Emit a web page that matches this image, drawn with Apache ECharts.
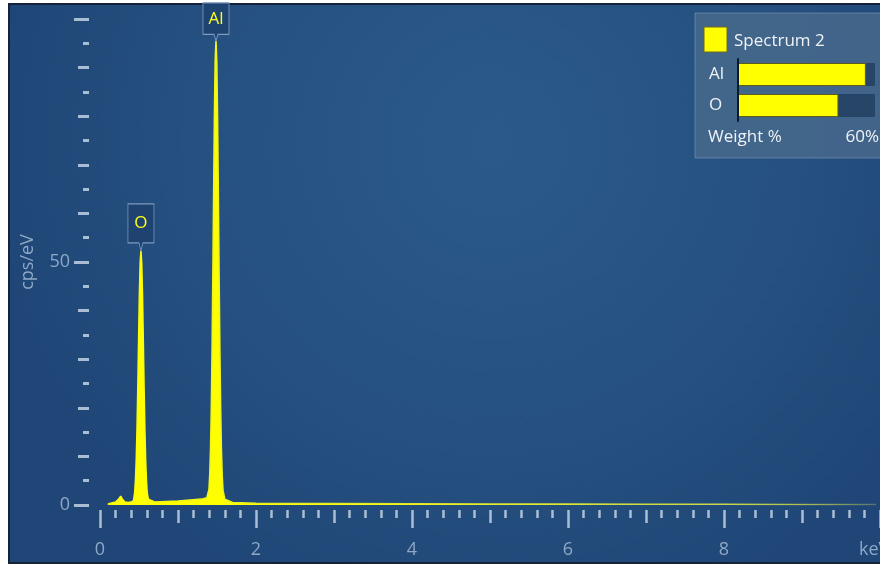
<!DOCTYPE html>
<html>
<head>
<meta charset="utf-8">
<script src="https://cdn.jsdelivr.net/npm/echarts@6/dist/echarts.min.js"></script>
<style>
  html, body { margin: 0; padding: 0; background: #ffffff; }
  #chart { width: 880px; height: 565px; }
</style>
</head>
<body>
<div id="chart"></div>
<script>
// EDS spectrum: photon energy (keV) and count rate (cps/eV)
const energy = [
  0.10, 0.15, 0.20, 0.24, 0.265, 0.29, 0.32, 0.36, 0.40, 0.43,
  0.445, 0.455, 0.465, 0.475, 0.485, 0.495, 0.505, 0.515, 0.525, 0.535,
  0.545, 0.555, 0.565, 0.575, 0.585, 0.595, 0.605, 0.62, 0.70, 0.85,
  1.00, 1.15, 1.30, 1.37, 1.385, 1.397, 1.407, 1.417, 1.427, 1.437,
  1.447, 1.457, 1.467, 1.477, 1.487, 1.497, 1.507, 1.517, 1.527, 1.537,
  1.547, 1.557, 1.567, 1.577, 1.60, 1.70, 2.0, 2.5, 3.0, 4.0,
  5.0, 6.0, 7.0, 8.0, 9.0, 9.95
];
const counts = [
  0.2, 0.4, 0.6, 1.2, 1.8, 1.1, 0.6, 0.5, 0.6, 0.9,
  2.6, 5.2, 9.4, 15.8, 24.3, 33.9, 43.2, 49.8, 52.3, 49.6,
  42.9, 33.6, 24.0, 15.5, 9.2, 5.1, 2.5, 1.2, 0.6, 0.7,
  0.8, 1.0, 1.2, 1.5, 1.8, 3.2, 6.2, 11.3, 19.6, 31.8,
  47.2, 64.0, 80.1, 91.4, 95.5, 91.2, 79.8, 63.7, 46.9, 31.5,
  19.3, 11.0, 5.9, 3.0, 1.2, 0.5, 0.35, 0.3, 0.3, 0.25,
  0.2, 0.2, 0.15, 0.15, 0.1, 0.1
];

// Identified peaks
const peakNames = ['O', 'Al'];
const peakEnergy = [0.525, 1.487];

// Quantification panel
const spectrumName = 'Spectrum 2';
const elements = ['Al', 'O'];
const weightPercent = [56, 44];
const weightScaleMax = 60;

// Axis ranges and labelling
const energyMax = 10;
const countsMax = 100;
const xLabelTicks = [0, 2, 4, 6, 8];
const yLabelTicks = [0, 50];

const chart = echarts.init(document.getElementById('chart'), null, { renderer: 'canvas' });

const tickColor = '#a9bdd5';
const labelColor = '#8ea8c6';
const fontFamily = '"Open Sans", "Noto Sans", sans-serif';

const spectrum = energy.map((e, i) => [e, counts[i]]);

const calloutPath = 'path://M0,0 L26,0 L26,39 L15,39 L13,47 L11,39 L0,39 Z';

const peakMarks = peakNames.map((name, i) => {
  const h = counts[energy.indexOf(peakEnergy[i])];
  const tall = h > 80;
  return {
    name: name,
    coord: [peakEnergy[i], h],
    symbol: calloutPath,
    symbolSize: tall ? [26, 38] : [26, 47],
    symbolKeepAspect: false,
    symbolOffset: [0, '-50%'],
    label: { offset: tall ? [0, -3] : [0, -4] }
  };
});

const hiddenValueAxis = (gridIndex, max) => ({
  type: 'value', gridIndex: gridIndex, min: 0, max: max, show: false,
  splitLine: { show: false }
});

const option = {
  backgroundColor: '#ffffff',
  animation: false,
  graphic: [
    {
      type: 'rect',
      z: -10,
      shape: { x: 9, y: 4, width: 880, height: 559 },
      style: {
        fill: new echarts.graphic.RadialGradient(0.55, 0.25, 0.9, [
          { offset: 0, color: '#2b5a89' },
          { offset: 0.6, color: '#25507f' },
          { offset: 1, color: '#1f4676' }
        ]),
        stroke: '#15233a',
        lineWidth: 2
      }
    },
    {
      type: 'rect',
      z: 5,
      shape: { x: 695, y: 13, width: 190, height: 145 },
      style: { fill: 'rgba(72,104,140,0.85)', stroke: 'rgba(140,165,195,0.5)', lineWidth: 1 }
    },
    {
      type: 'rect',
      z: 6,
      shape: { x: 704, y: 27, width: 23, height: 25 },
      style: { fill: '#ffff00', stroke: '#6b6b20', lineWidth: 1 }
    },
    {
      type: 'text',
      z: 6,
      style: {
        x: 734, y: 41, text: spectrumName, fill: '#eef3f8',
        font: '17px ' + fontFamily, textVerticalAlign: 'middle'
      }
    },
    {
      type: 'text',
      z: 6,
      style: {
        x: 708, y: 137, text: 'Weight %', fill: '#eef3f8',
        font: '17px ' + fontFamily, textVerticalAlign: 'middle'
      }
    },
    {
      type: 'text',
      z: 6,
      style: {
        x: 879, y: 137, text: weightScaleMax + '%', fill: '#eef3f8',
        font: '17px ' + fontFamily, textAlign: 'right', textVerticalAlign: 'middle'
      }
    }
  ],
  grid: [
    // spectrum plot area
    { left: 100, right: 0, top: 19, bottom: 60, containLabel: false, outerBoundsMode: 'none' },
    // weight % bars
    { left: 738, right: 5, top: 59, height: 62, containLabel: false, outerBoundsMode: 'none' },
    // energy scale, set slightly below the plot
    { left: 100, right: 0, top: 19, bottom: 55, containLabel: false, outerBoundsMode: 'none' },
    // count-rate scale, set slightly left of the plot
    { left: 89, right: 0, top: 19, bottom: 60, containLabel: false, outerBoundsMode: 'none' }
  ],
  xAxis: [
    hiddenValueAxis(0, energyMax),
    {
      type: 'value', gridIndex: 1, min: 0, max: weightScaleMax,
      axisLine: { show: false }, axisTick: { show: false }, axisLabel: { show: false },
      splitLine: { show: false }
    },
    {
      type: 'value', gridIndex: 2, position: 'bottom', min: 0, max: energyMax, interval: 1,
      axisLine: { show: false },
      axisTick: { show: true, inside: false, length: 13, lineStyle: { color: tickColor, width: 2.5 } },
      minorTick: { show: true, splitNumber: 5, length: 8, lineStyle: { color: tickColor, width: 2.5 } },
      axisLabel: { show: false },
      splitLine: { show: false }
    },
    {
      type: 'value', gridIndex: 2, position: 'bottom', min: 0, max: energyMax, interval: 2,
      axisLine: { show: false },
      axisTick: { show: true, inside: false, length: 18, lineStyle: { color: tickColor, width: 2.5 } },
      axisLabel: {
        show: true, margin: 31, color: labelColor, fontSize: 18, fontFamily: fontFamily,
        formatter: v => (xLabelTicks.indexOf(v) >= 0 ? String(v) : '')
      },
      splitLine: { show: false },
      name: 'keV',
      nameLocation: 'end',
      nameGap: -21,
      nameTextStyle: {
        color: labelColor, fontSize: 18, fontFamily: fontFamily,
        align: 'left', verticalAlign: 'top', padding: [31, 0, 0, 0]
      }
    },
    hiddenValueAxis(3, energyMax)
  ],
  yAxis: [
    hiddenValueAxis(0, countsMax),
    {
      type: 'category', gridIndex: 1, data: elements, inverse: true,
      axisLine: { show: true, lineStyle: { color: '#0d1a28', width: 2 } },
      axisTick: { show: false },
      axisLabel: {
        show: true, margin: 29, align: 'left', color: '#eef3f8',
        fontSize: 17, fontFamily: fontFamily
      },
      z: 12
    },
    hiddenValueAxis(2, countsMax),
    {
      type: 'value', gridIndex: 3, position: 'left', min: 0, max: countsMax, interval: 10,
      axisLine: { show: false },
      axisTick: { show: true, inside: false, length: 11, lineStyle: { color: tickColor, width: 3 } },
      minorTick: { show: true, splitNumber: 2, length: 6, lineStyle: { color: tickColor, width: 3 } },
      axisLabel: { show: false },
      splitLine: { show: false }
    },
    {
      type: 'value', gridIndex: 3, position: 'left', min: 0, max: countsMax, interval: 50,
      axisLine: { show: false },
      axisTick: { show: true, inside: false, length: 15, lineStyle: { color: tickColor, width: 3 } },
      axisLabel: {
        show: true, margin: 19, color: labelColor, fontSize: 18, fontFamily: fontFamily,
        formatter: v => (yLabelTicks.indexOf(v) >= 0 ? String(v) : '')
      },
      splitLine: { show: false },
      name: 'cps/eV',
      nameLocation: 'middle',
      nameGap: 52,
      nameTextStyle: { color: labelColor, fontSize: 18, fontFamily: fontFamily }
    }
  ],
  series: [
    {
      type: 'line',
      xAxisIndex: 0,
      yAxisIndex: 0,
      data: spectrum,
      showSymbol: false,
      symbol: 'none',
      smooth: false,
      lineStyle: {
        width: 1.6,
        color: new echarts.graphic.LinearGradient(0, 0, 1, 0, [
          { offset: 0, color: '#ffff00' },
          { offset: 0.2, color: '#e9f024' },
          { offset: 0.8, color: '#c9d64a' },
          { offset: 1, color: 'rgba(170,190,110,0.35)' }
        ])
      },
      areaStyle: { color: '#ffff00', opacity: 1 },
      markPoint: {
        symbol: calloutPath,
        itemStyle: { color: 'rgba(30,66,112,0.9)', borderColor: '#7d9bc0', borderWidth: 1 },
        label: {
          show: true, position: 'inside', color: '#ffff1a', fontSize: 17, fontFamily: fontFamily,
          formatter: p => p.name
        },
        data: peakMarks
      },
      z: 3
    },
    {
      type: 'bar',
      xAxisIndex: 1,
      yAxisIndex: 1,
      data: weightPercent,
      barWidth: 23,
      showBackground: true,
      backgroundStyle: { color: 'rgba(35,65,100,0.9)' },
      itemStyle: { color: '#ffff00', borderColor: '#5d5d1c', borderWidth: 1 },
      z: 10
    }
  ]
};

chart.setOption(option);
</script>
</body>
</html>
